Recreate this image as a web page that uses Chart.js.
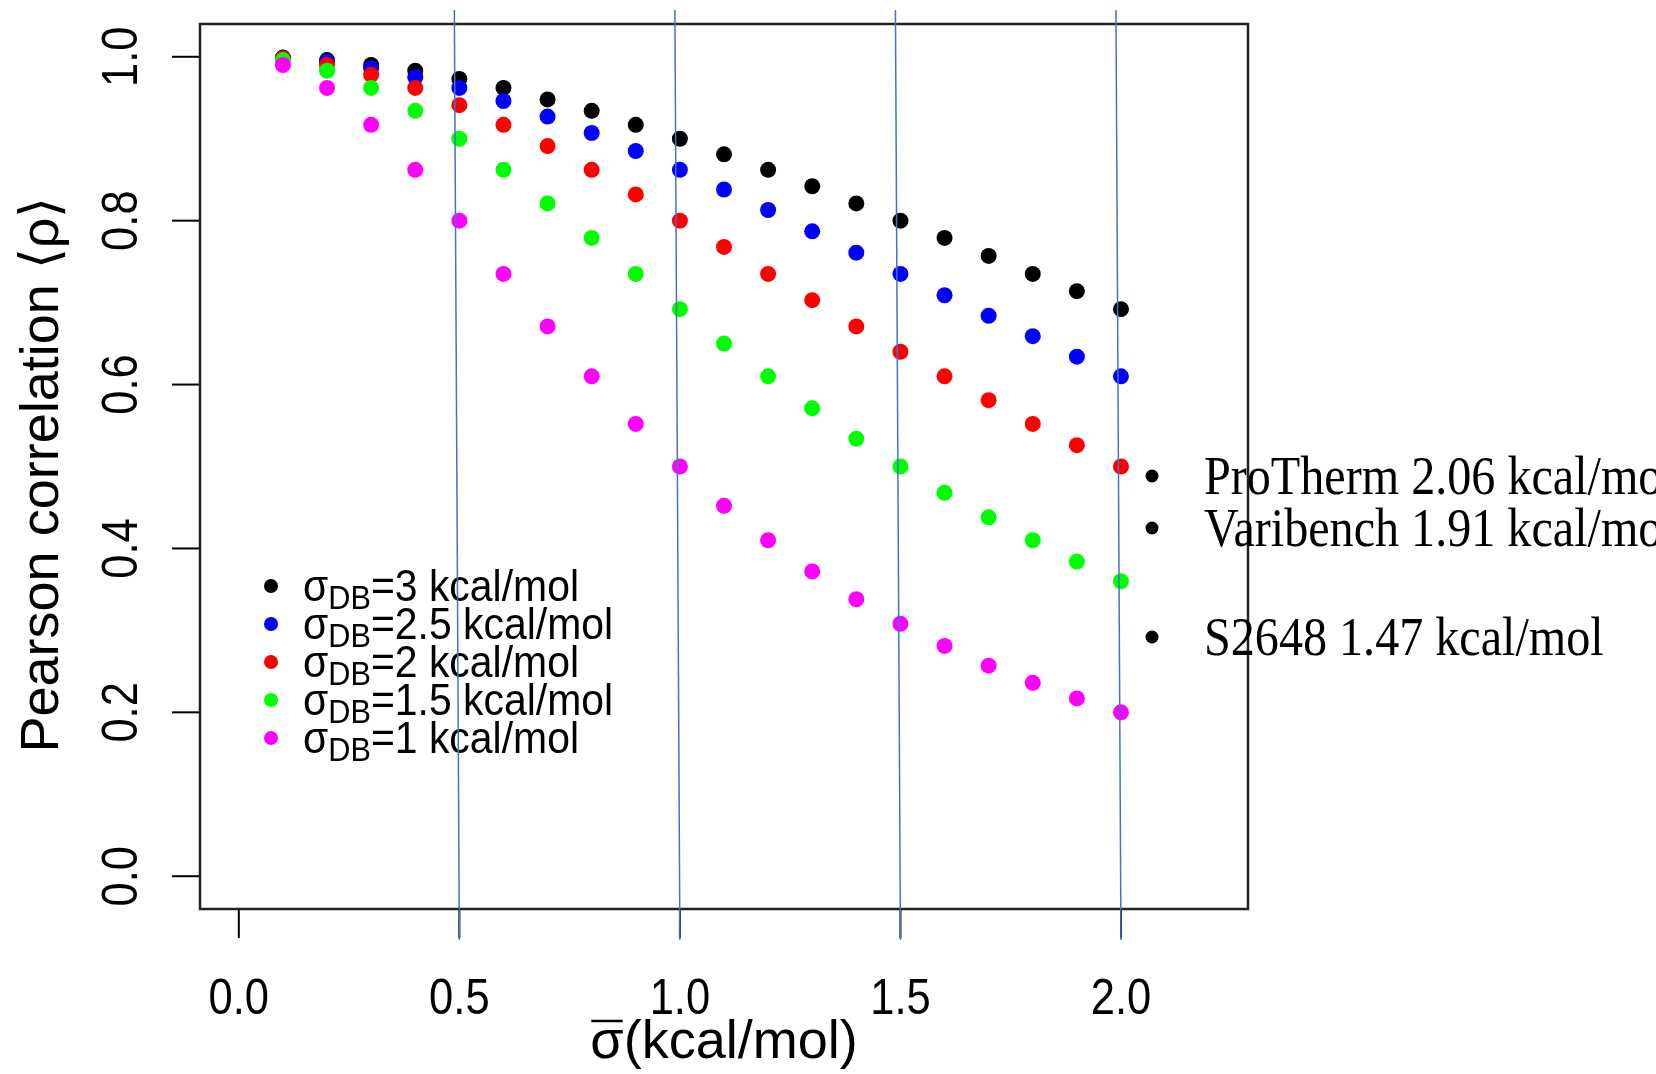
<!DOCTYPE html>
<html>
<head>
<meta charset="utf-8">
<script src="https://cdn.jsdelivr.net/npm/chart.js@4/dist/chart.umd.min.js"></script>
<style>
  html, body { margin: 0; padding: 0; background: #fff; }
  #wrap { width: 1656px; height: 1074px; position: relative; }
</style>
</head>
<body>
<div id="wrap"><canvas id="rhoChart" width="1656" height="1074"></canvas></div>
<script>
// sigma-bar values on the x axis (kcal/mol)
const sigmaBar = [0.1, 0.2, 0.3, 0.4, 0.5, 0.6, 0.7, 0.8, 0.9, 1.0,
                  1.1, 1.2, 1.3, 1.4, 1.5, 1.6, 1.7, 1.8, 1.9, 2.0];

// Pearson correlation, one list per sigma_DB
const rhoDB3   = [0.999, 0.996, 0.990, 0.983, 0.973, 0.962, 0.948, 0.934, 0.917, 0.900,
                  0.881, 0.862, 0.842, 0.821, 0.800, 0.779, 0.757, 0.735, 0.714, 0.692];
const rhoDB2_5 = [0.998, 0.994, 0.986, 0.975, 0.962, 0.946, 0.927, 0.907, 0.885, 0.862,
                  0.838, 0.813, 0.787, 0.761, 0.735, 0.709, 0.684, 0.659, 0.634, 0.610];
const rhoDB2   = [0.998, 0.990, 0.978, 0.962, 0.941, 0.917, 0.891, 0.862, 0.832, 0.800,
                  0.768, 0.735, 0.703, 0.671, 0.640, 0.610, 0.581, 0.552, 0.526, 0.500];
const rhoDB1_5 = [0.996, 0.983, 0.962, 0.934, 0.900, 0.862, 0.821, 0.779, 0.735, 0.692,
                  0.650, 0.610, 0.571, 0.534, 0.500, 0.468, 0.438, 0.410, 0.384, 0.360];
const rhoDB1   = [0.990, 0.962, 0.917, 0.862, 0.800, 0.735, 0.671, 0.610, 0.552, 0.500,
                  0.452, 0.410, 0.372, 0.338, 0.308, 0.281, 0.257, 0.236, 0.217, 0.200];

const seriesValues = [rhoDB3, rhoDB2_5, rhoDB2, rhoDB1_5, rhoDB1];
const seriesSigma  = ['3', '2.5', '2', '1.5', '1'];
const seriesColors = ['#000000', '#0000ff', '#ff0000', '#00ff00', '#ff00ff'];

const xTicks = [0, 0.5, 1, 1.5, 2];
const xTickLabels = ['0.0', '0.5', '1.0', '1.5', '2.0'];
const yTicks = [0, 0.2, 0.4, 0.6, 0.8, 1];
const yTickLabels = ['0.0', '0.2', '0.4', '0.6', '0.8', '1.0'];

// vertical marker lines drawn over the plot
const markerLines = [0.5, 1.0, 1.5, 2.0];
const noteLabels = ['ProTherm 2.06 kcal/mol', 'Varibench 1.91 kcal/mol', 'S2648 1.47 kcal/mol'];

const SANS = '"Liberation Sans", Arial, Helvetica, sans-serif';
const SERIF = '"Liberation Serif", "Times New Roman", serif';

function drawText(ctx, s, x, y, font, o) {
  o = o || {};
  ctx.save();
  ctx.translate(x, y);
  if (o.rot) ctx.rotate(o.rot);
  ctx.scale(o.sx || 1, 1);
  ctx.font = font;
  ctx.fillStyle = o.color || '#000';
  ctx.textAlign = o.align || 'center';
  ctx.textBaseline = o.base || 'alphabetic';
  ctx.fillText(s, 0, 0);
  ctx.restore();
}

const rPlot = {
  id: 'rPlot',
  beforeDatasetsDraw(chart) {
    const { ctx, chartArea: a, scales: { x, y } } = chart;
    ctx.save();
    ctx.strokeStyle = '#000';
    ctx.lineWidth = 2;
    // ticks outside the box
    xTicks.forEach(v => {
      const px = x.getPixelForValue(v);
      ctx.beginPath(); ctx.moveTo(px, a.bottom); ctx.lineTo(px, a.bottom + 29); ctx.stroke();
    });
    yTicks.forEach(v => {
      const py = y.getPixelForValue(v);
      ctx.beginPath(); ctx.moveTo(a.left, py); ctx.lineTo(a.left - 28, py); ctx.stroke();
    });
    ctx.restore();

    // tick labels
    xTicks.forEach((v, i) => {
      drawText(ctx, xTickLabels[i], x.getPixelForValue(v), 1014, '50px ' + SANS, { sx: 0.87 });
    });
    yTicks.forEach((v, i) => {
      drawText(ctx, yTickLabels[i], 137, y.getPixelForValue(v), '50px ' + SANS, { rot: -Math.PI / 2, sx: 0.87 });
    });

    // axis titles
    drawText(ctx, 'Pearson correlation \u27E8\u03C1\u27E9', 58, (a.top + a.bottom) / 2 + 8,
      '54px ' + SANS, { rot: -Math.PI / 2 });

    ctx.save();
    ctx.font = '54px ' + SANS;
    const sig = '\u03C3', rest = '(kcal/mol)';
    const ws = ctx.measureText(sig).width, wr = ctx.measureText(rest).width;
    const cx = (a.left + a.right) / 2;
    const x0 = cx - (ws + wr) / 2;
    ctx.fillStyle = '#000';
    ctx.textBaseline = 'alphabetic';
    ctx.textAlign = 'left';
    ctx.fillText(sig, x0, 1058);
    ctx.fillText(rest, x0 + ws, 1058);
    ctx.strokeStyle = '#000';
    ctx.lineWidth = 2.5;
    ctx.beginPath(); ctx.moveTo(x0 + 1, 1021); ctx.lineTo(x0 + ws - 1, 1021); ctx.stroke();
    ctx.restore();

    // legend inside the box
    seriesSigma.forEach((s, i) => {
      const ry = 586 + i * 38;
      ctx.save();
      ctx.fillStyle = seriesColors[i];
      ctx.beginPath(); ctx.arc(271, ry, 7, 0, Math.PI * 2); ctx.fill();
      ctx.translate(303, 0);
      ctx.scale(0.93, 1);
      ctx.fillStyle = '#000';
      ctx.textAlign = 'left';
      ctx.textBaseline = 'alphabetic';
      let tx = 0;
      ctx.font = '44px ' + SANS;
      ctx.fillText('\u03C3', tx, ry + 15);
      tx += ctx.measureText('\u03C3').width;
      ctx.font = '33px ' + SANS;
      ctx.fillText('DB', tx, ry + 23);
      tx += ctx.measureText('DB').width;
      ctx.font = '44px ' + SANS;
      ctx.fillText('=' + s + ' kcal/mol', tx, ry + 15);
      ctx.restore();
    });
  },
  afterDatasetsDraw(chart) {
    const { ctx, chartArea: a, scales: { x } } = chart;
    // box
    ctx.save();
    ctx.strokeStyle = '#222';
    ctx.lineWidth = 2.5;
    ctx.strokeRect(a.left, a.top, a.right - a.left, a.bottom - a.top);
    ctx.restore();

    // hand-drawn marker lines
    ctx.save();
    ctx.strokeStyle = '#4472c4';
    ctx.lineWidth = 1.5;
    markerLines.forEach(v => {
      const px = x.getPixelForValue(v);
      ctx.beginPath(); ctx.moveTo(px - 5, 10); ctx.lineTo(px, 940); ctx.stroke();
    });
    ctx.restore();

    // bulleted notes on the right
    const baselines = [494, 546, 655];
    noteLabels.forEach((s, i) => {
      const b = baselines[i];
      ctx.save();
      ctx.fillStyle = '#000';
      ctx.beginPath(); ctx.arc(1152, b - 18, 6.5, 0, Math.PI * 2); ctx.fill();
      ctx.restore();
      drawText(ctx, s, 1204, b, '55px ' + SERIF, { align: 'left', sx: 0.875 });
    });
  }
};

const datasets = seriesValues.map((vals, i) => ({
  label: 'sigma_DB=' + seriesSigma[i] + ' kcal/mol',
  data: sigmaBar.map((sx, j) => ({ x: sx, y: vals[j] })),
  backgroundColor: seriesColors[i],
  borderColor: seriesColors[i],
  borderWidth: 0,
  pointRadius: 8,
  pointHoverRadius: 8,
  showLine: false,
  order: seriesValues.length - i
}));

const ctx = document.getElementById('rhoChart').getContext('2d');
const chart = new Chart(ctx, {
  type: 'scatter',
  data: { datasets },
  options: {
    responsive: false,
    animation: false,
    layout: { padding: { left: 200, right: 408, top: 24, bottom: 165 } },
    plugins: { legend: { display: false }, tooltip: { enabled: false } },
    scales: {
      x: { type: 'linear', min: -0.088, max: 2.288, display: false },
      y: { type: 'linear', min: -0.04, max: 1.04, display: false }
    }
  },
  plugins: [rPlot]
});
</script>
</body>
</html>
